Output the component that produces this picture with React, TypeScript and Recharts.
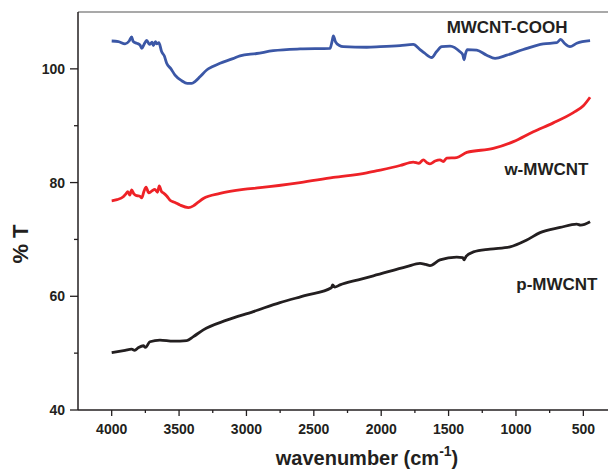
import React from 'react';
import { LineChart, Line, XAxis, YAxis, ReferenceLine, ReferenceDot } from 'recharts';

const FONT = '"Liberation Sans", Arial, Helvetica, sans-serif';
const TEXT = '#231f20';
const AXIS = '#231f20';

// MWCNT-COOH (blue)
const coohWn = [4000, 3950, 3901, 3870, 3852, 3840, 3814, 3790, 3777, 3760, 3740, 3720, 3700, 3691, 3675, 3666, 3650, 3629, 3610, 3592, 3560, 3530, 3480, 3439, 3406, 3380, 3345, 3295, 3250, 3196, 3100, 3048, 2924, 2801, 2602, 2380, 2365, 2355, 2340, 2310, 2281, 2107, 2008, 1860, 1762, 1712, 1680, 1625, 1590, 1551, 1489, 1415, 1395, 1385, 1375, 1361, 1291, 1217, 1155, 1069, 945, 797, 697, 668, 640, 599, 549, 450];
const coohT = [104.9, 104.8, 104.4, 104.9, 105.6, 104.8, 104.5, 104.2, 103.6, 104.3, 105.0, 104.3, 104.7, 104.1, 104.8, 104.4, 104.6, 103.0, 102.3, 101.0, 100.0, 98.9, 97.9, 97.45, 97.45, 97.8, 98.6, 99.8, 100.4, 101.0, 101.8, 102.3, 102.7, 103.2, 103.5, 103.6, 104.8, 105.8, 104.8, 104.1, 103.9, 103.8, 103.9, 104.1, 104.3, 103.4, 102.8, 102.0, 103.0, 103.9, 104.0, 103.0, 102.5, 101.6, 102.6, 103.4, 103.3, 102.4, 101.85, 102.4, 103.4, 104.4, 104.6, 105.2, 104.5, 103.9, 104.5, 104.95];

// w-MWCNT (red)
const wWn = [4000, 3960, 3914, 3895, 3880, 3865, 3852, 3835, 3814, 3790, 3777, 3760, 3745, 3725, 3703, 3680, 3660, 3647, 3630, 3617, 3590, 3567, 3530, 3493, 3431, 3394, 3360, 3320, 3196, 3023, 2899, 2602, 2355, 2107, 2008, 1860, 1762, 1720, 1687, 1660, 1638, 1600, 1564, 1540, 1514, 1440, 1365, 1168, 1019, 871, 723, 574, 500, 450];
const wT = [76.8, 77.0, 77.5, 78.0, 78.4, 77.8, 78.7, 78.0, 77.7, 77.6, 77.3, 78.5, 79.2, 78.2, 78.5, 78.8, 78.3, 79.4, 78.4, 78.2, 77.6, 76.9, 76.5, 76.05, 75.6, 75.9, 76.5, 77.2, 78.1, 78.8, 79.1, 80.0, 80.9, 81.7, 82.2, 83.0, 83.6, 83.4, 84.0, 83.5, 83.3, 83.8, 84.0, 83.7, 84.3, 84.4, 85.3, 86.0, 87.2, 88.95, 90.5, 92.3, 93.5, 95.0];

// p-MWCNT (black)
const pWn = [4000, 3900, 3852, 3830, 3800, 3765, 3750, 3716, 3642, 3543, 3443, 3394, 3320, 3147, 2949, 2751, 2553, 2370, 2360, 2345, 2306, 2170, 2058, 1811, 1712, 1670, 1638, 1564, 1440, 1395, 1385, 1370, 1316, 1192, 1044, 920, 821, 672, 549, 520, 450];
const pT = [50.1, 50.5, 50.7, 50.5, 51.0, 51.3, 51.0, 52.0, 52.3, 52.1, 52.2, 52.9, 54.1, 55.8, 57.3, 58.9, 60.2, 61.5, 62.0, 61.6, 62.0, 62.9, 63.6, 65.2, 65.8, 65.6, 65.4, 66.4, 66.9, 66.8, 66.4, 67.0, 67.8, 68.3, 68.7, 69.9, 71.2, 72.1, 72.7, 72.5, 73.1];

const xMajor = [4000, 3500, 3000, 2500, 2000, 1500, 1000, 500];
const xMinor = [3750, 3250, 2750, 2250, 1750, 1250, 750];
const yMajor = [40, 60, 80, 100];
const yMinor = [50, 70, 90];

const xDomain = [317, 4250];
const yDomain = [40, 110];

const labelCooh = { text: 'MWCNT-COOH', wn: 1066, t: 106.3 };
const labelW = { text: 'w-MWCNT', wn: 774, t: 81.33 };
const labelP = { text: 'p-MWCNT', wn: 696, t: 61.1 };

const toRows = (wn: number[], t: number[]) => wn.map((x, i) => ({ x, y: t[i] }));
const coohData = toRows(coohWn, coohT);
const wData = toRows(wWn, wT);
const pData = toRows(pWn, pT);

const X_TICK_SIZE = 6;
const X_TICK_MARGIN = 4;
const Y_TICK_SIZE = 8;
const Y_TICK_MARGIN = 5;

const XTick = (props: any) => {
  const { x, y, payload } = props;
  const v = payload.value;
  const major = xMajor.includes(v);
  const axisY = y - X_TICK_SIZE - X_TICK_MARGIN;
  return (
    <g>
      <line x1={x} x2={x} y1={axisY} y2={axisY + (major ? 6 : 3)} stroke={AXIS} strokeWidth={1.3} />
      {major && (
        <text x={x} y={axisY + 24} textAnchor="middle" fontFamily={FONT} fontSize={14} fontWeight="bold" fill={TEXT}>
          {v}
        </text>
      )}
    </g>
  );
};

const YTick = (props: any) => {
  const { x, y, payload } = props;
  const v = payload.value;
  const major = yMajor.includes(v);
  const axisX = x + Y_TICK_SIZE + Y_TICK_MARGIN;
  return (
    <g>
      <line x1={axisX - (major ? 8 : 4)} x2={axisX} y1={y} y2={y} stroke={AXIS} strokeWidth={1.3} />
      {major && (
        <text x={x} y={y + 5} textAnchor="end" fontFamily={FONT} fontSize={14} fontWeight="bold" fill={TEXT}>
          {v}
        </text>
      )}
    </g>
  );
};

const XTitle = (props: any) => {
  const vb = props.viewBox || { x: 0, y: 0, width: 0, height: 0 };
  const cx = vb.x + vb.width / 2 + 24;
  const by = vb.y + 55;
  return (
    <text x={cx} y={by} textAnchor="middle" fontFamily={FONT} fontSize={20} fontWeight="bold" fill={TEXT}>
      <tspan>wavenumber (cm</tspan>
      <tspan dy={-9} fontSize={14}>-1</tspan>
      <tspan dy={9}>)</tspan>
    </text>
  );
};

const YTitle = (props: any) => {
  const vb = props.viewBox || { x: 0, y: 0, width: 0, height: 0 };
  const bx = vb.x + 28.3;
  const cy = vb.y + vb.height / 2 + 33;
  return (
    <text x={bx} y={cy} textAnchor="middle" transform={`rotate(-90, ${bx}, ${cy})`} fontFamily={FONT} fontSize={22} fontWeight="bold" fill={TEXT}>
      % T
    </text>
  );
};

const seriesLabel = (text: string) => (props: any) => {
  const vb = props.viewBox || { x: 0, y: 0, width: 0, height: 0 };
  const cx = vb.x + (vb.width || 0) / 2;
  const cy = vb.y + (vb.height || 0) / 2;
  return (
    <text x={cx} y={cy} textAnchor="middle" fontFamily={FONT} fontSize={17} fontWeight="bold" fill={TEXT}>
      {text}
    </text>
  );
};

export default function App() {
  return (
    <div style={{ position: 'absolute', left: 0, top: 0, width: 608, height: 472, background: '#fff' }}>
      <LineChart width={608} height={472} margin={{ top: 12, right: 0, left: 0, bottom: 0 }}>
        <XAxis
          type="number"
          dataKey="x"
          domain={xDomain}
          reversed
          allowDataOverflow
          ticks={[...xMajor, ...xMinor].sort((a, b) => b - a)}
          interval={0}
          height={62}
          tickSize={X_TICK_SIZE}
          tickMargin={X_TICK_MARGIN}
          tickLine={false}
          tick={<XTick />}
          axisLine={{ stroke: AXIS, strokeWidth: 1.5 }}
          label={XTitle}
        />
        <YAxis
          type="number"
          domain={yDomain}
          allowDataOverflow
          ticks={[...yMajor, ...yMinor].sort((a, b) => a - b)}
          interval={0}
          width={78}
          tickSize={Y_TICK_SIZE}
          tickMargin={Y_TICK_MARGIN}
          tickLine={false}
          tick={<YTick />}
          axisLine={{ stroke: AXIS, strokeWidth: 1.5 }}
          label={YTitle}
        />
        <ReferenceLine y={110} stroke="#8c8c8c" strokeWidth={1.5} />
        <Line data={coohData} dataKey="y" type="monotone" stroke="#3b57a6" strokeWidth={2.8} dot={false} isAnimationActive={false} />
        <Line data={wData} dataKey="y" type="monotone" stroke="#ee2227" strokeWidth={2.8} dot={false} isAnimationActive={false} />
        <Line data={pData} dataKey="y" type="monotone" stroke="#231f20" strokeWidth={2.8} dot={false} isAnimationActive={false} />
        <ReferenceDot x={labelCooh.wn} y={labelCooh.t} r={1} fill="none" stroke="none" label={seriesLabel(labelCooh.text)} />
        <ReferenceDot x={labelW.wn} y={labelW.t} r={1} fill="none" stroke="none" label={seriesLabel(labelW.text)} />
        <ReferenceDot x={labelP.wn} y={labelP.t} r={1} fill="none" stroke="none" label={seriesLabel(labelP.text)} />
      </LineChart>
    </div>
  );
}
